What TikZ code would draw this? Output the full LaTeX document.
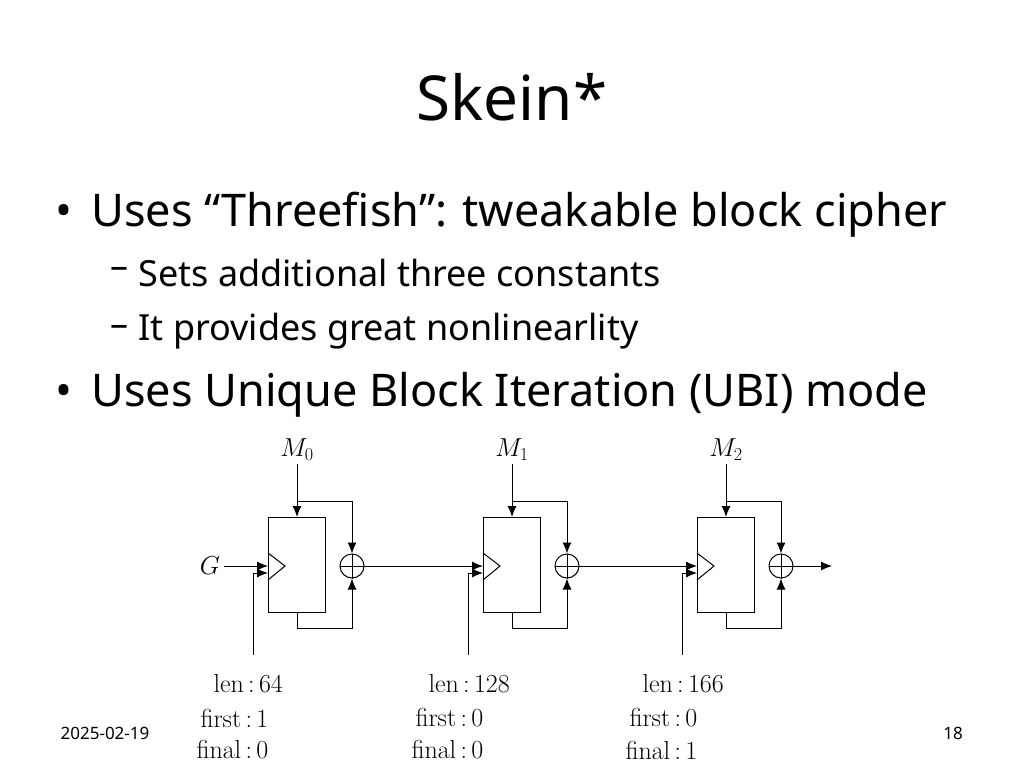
\documentclass[tikz,border=0pt]{standalone}
\usepackage{fix-cm}
\usepackage{fontspec}
\setmainfont{Noto Sans}
\newfontfamily\lmr{Latin Modern Roman}
\usetikzlibrary{arrows.meta}
\begin{document}
\begin{tikzpicture}[x=1pt,y=-1pt,
  blk/.style={draw,line width=1pt,minimum width=57pt,minimum height=95pt,inner sep=0},
  xr/.style={draw,circle,line width=1pt,minimum size=24pt,inner sep=0},
  ln/.style={line width=1pt},
  ar/.style={line width=1pt,-{Latex[length=11pt,width=9pt]}},
  mathlab/.style={font=\fontsize{26}{28}\selectfont},
  lab/.style={font=\fontsize{26}{28}\selectfont\lmr},
  bl/.style={anchor=west,font=\fontsize{45}{50}\selectfont},
  sb/.style={anchor=west,font=\fontsize{36}{40}\selectfont}]
\useasboundingbox (0,0) rectangle (1024,768);
\node[font=\fontsize{62}{70}\selectfont] (title) at (512,97) {Skein*};
\node[bl] (b1d) at (52,215) {•};
\node[bl] (b1) at (88,215) {Uses “Threefish”: tweakable block cipher};
\node[sb] (s1d) at (107,273) {–};
\node[sb] (s1) at (135,273) {Sets additional three constants};
\node[sb] (s2d) at (107,331) {–};
\node[sb] (s2) at (135,331) {It provides great nonlinearlity};
\node[bl] (b2d) at (52,395) {•};
\node[bl] (b2) at (88,395) {Uses Unique Block Iteration (UBI) mode};
\node[font=\fontsize{17}{20}\selectfont] (date) at (105,733) {2025-02-19};
\node[font=\fontsize{17}{20}\selectfont] (pg) at (953,733) {18};
\node[mathlab] (G) at (210,566) {$G$};
\foreach \i/\x/\l/\f/\n in {0/0/64/1/0,1/215/128/0/0,2/429/166/0/1}{
  \begin{scope}[xshift=\x]
  \node[blk,anchor=north west] (B\i) at (268,517) {};
  \draw[ln] (268,553) -- (285,566) -- (268,580);
  \node[mathlab] (M\i) at (297,450) {$M_{\i}$};
  \node[xr] (X\i) at (352,566) {};
  \draw[ln] (X\i.north) -- (X\i.south) (X\i.west) -- (X\i.east);
  \coordinate (t\i) at (297,501);
  \draw[ar] (M\i.south) -- (297,517);
  \draw[ar] (t\i) -- (352,501) -- (X\i.north);
  \draw[ar] (297,612) -- (297,628) -- (352,628) -- (X\i.south);
  \coordinate (c\i) at (253,655);
  \draw[ar] (c\i) -- (253,573) -- (268,573);
  \node[lab,anchor=west] (L\i) at (210,684) {len\,:\,\l};
  \node[lab,anchor=west] (F\i) at (197,718) {first\,:\,\f};
  \node[lab,anchor=west] (N\i) at (193,750) {final\,:\,\n};
  \end{scope}
}
\draw[ar] (G) -- (268,566);
\draw[ar] (X0.east) -- (483,566);
\draw[ar] (X1.east) -- (697,566);
\coordinate (out) at (832,566);
\draw[ar] (X2.east) -- (out);
\end{tikzpicture}
\end{document}
